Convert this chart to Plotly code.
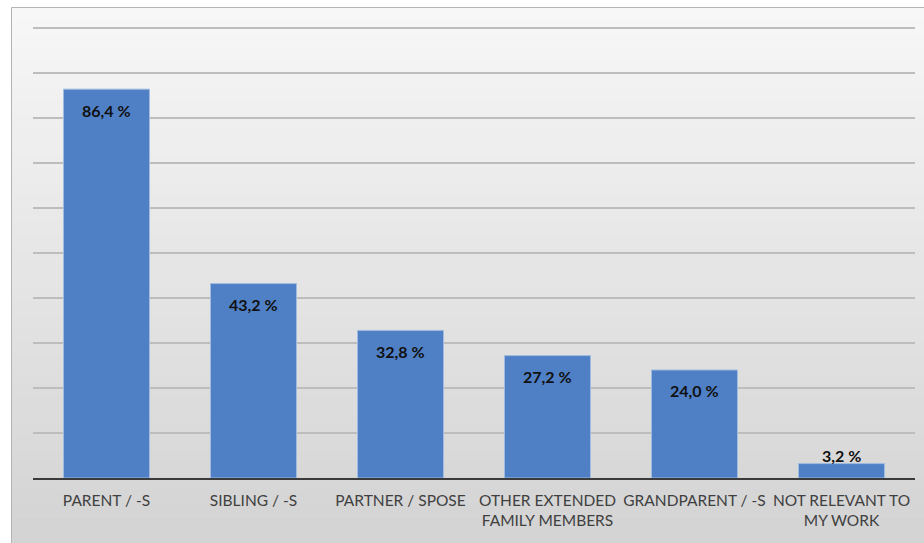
import plotly.graph_objects as go

categories = ["PARENT / -S", "SIBLING / -S", "PARTNER / SPOSE",
              "OTHER EXTENDED<br>FAMILY MEMBERS", "GRANDPARENT / -S",
              "NOT RELEVANT TO<br>MY WORK"]
values = [86.4, 43.2, 32.8, 27.2, 24.0, 3.2]
labels = ["86,4 %", "43,2 %", "32,8 %", "27,2 %", "24,0 %", "3,2 %"]
inside = [True, True, True, True, True, False]

W, H = 924, 543
ml, mr, mt, mb = 33, 9, 23, 65
pw, ph = W - ml - mr, H - mt - mb

def px_x(p):
    return (p - ml) / pw

def px_y(p):
    return (H - mb - p) / ph

shapes = []
# gradient background bands (decoration)
n = 40
top_c, bot_c = (247, 247, 247), (212, 212, 212)
y0p, y1p = 7, H
for i in range(n):
    t = i / (n - 1)
    c = tuple(int(top_c[k] + (bot_c[k] - top_c[k]) * t) for k in range(3))
    a = y0p + (y1p - y0p) * i / n
    b = y0p + (y1p - y0p) * (i + 1) / n
    shapes.append(dict(type="rect", xref="paper", yref="paper",
                       x0=px_x(11), x1=px_x(W), y0=px_y(b + 0.5), y1=px_y(a),
                       fillcolor="rgb(%d,%d,%d)" % c, line=dict(width=0), layer="below"))
# frame
shapes.append(dict(type="rect", xref="paper", yref="paper",
                   x0=px_x(11.5), x1=px_x(W + 2), y0=px_y(H + 2), y1=px_y(7.5),
                   fillcolor="rgba(0,0,0,0)", line=dict(color="#b4b4b4", width=1), layer="below"))

fig = go.Figure(go.Bar(
    x=categories, y=values,
    marker=dict(color="#4f80c5", line=dict(color="#9fbbe0", width=1)),
    cliponaxis=False,
))

label_font = dict(family="Lato, 'Open Sans', sans-serif", size=16, color="#111111", weight="bold")
annotations = []
for cat, v, lab, ins in zip(categories, values, labels, inside):
    if ins:
        annotations.append(dict(x=cat, y=v, xref="x", yref="y", text=lab, showarrow=False,
                                yanchor="middle", yshift=-21, font=label_font))
    else:
        annotations.append(dict(x=cat, y=v, xref="x", yref="y", text=lab, showarrow=False,
                                yanchor="bottom", yshift=-3, font=label_font))

fig.update_layout(
    width=W, height=H,
    margin=dict(l=ml, r=mr, t=mt, b=mb),
    paper_bgcolor="white",
    plot_bgcolor="rgba(0,0,0,0)",
    bargap=0.415,
    showlegend=False,
    shapes=shapes,
    annotations=annotations,
)
fig.update_xaxes(
    tickfont=dict(family="Lato, 'Open Sans', sans-serif", size=15.5, color="#404040"),
    showline=True, linecolor="#3a3a3a", linewidth=2,
    ticks="", showgrid=False, ticklabelstandoff=7,
)
fig.update_yaxes(
    range=[0, 101.1], dtick=10, showticklabels=False,
    showgrid=True, gridcolor="#bdbdbd", gridwidth=2,
    zeroline=False, showline=False, ticks="",
)

fig.write_html("out.html")
